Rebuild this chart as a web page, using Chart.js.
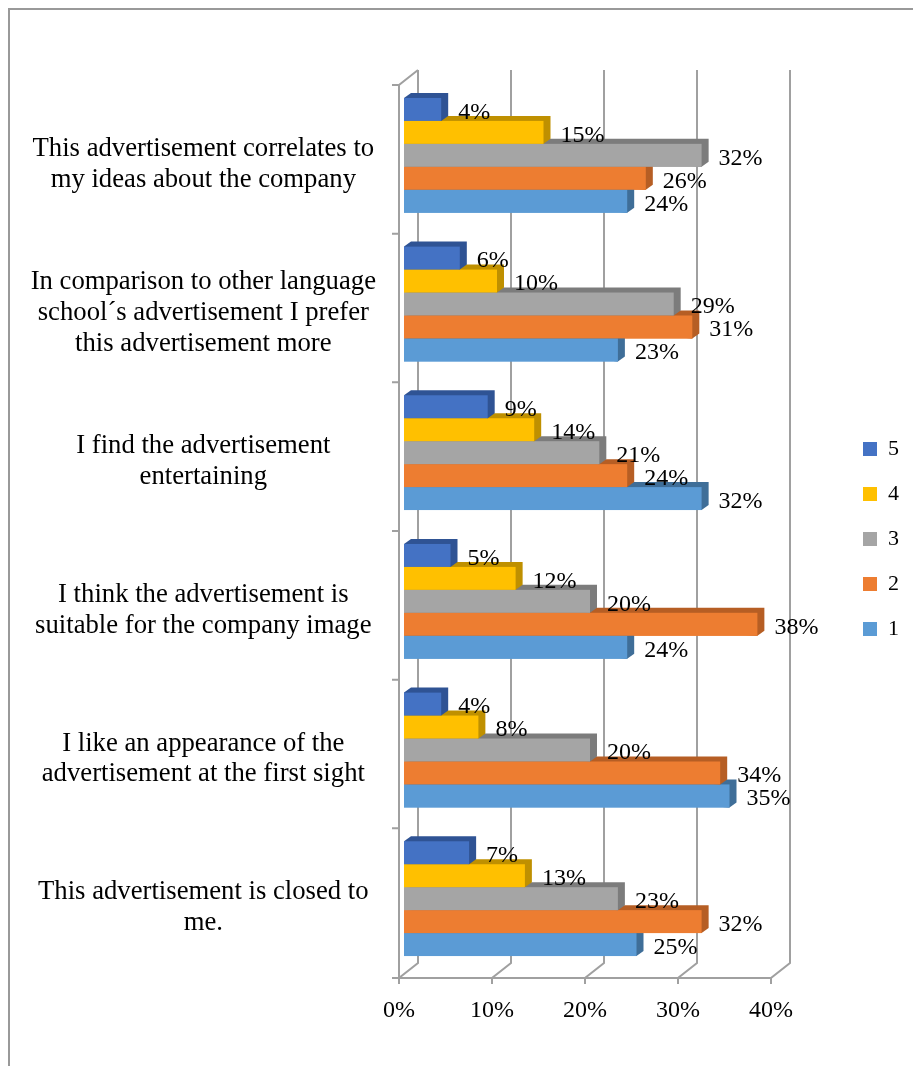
<!DOCTYPE html>
<html>
<head>
<meta charset="utf-8">
<script src="https://cdn.jsdelivr.net/npm/chart.js@4"></script>
<style>
  html, body { margin: 0; padding: 0; background: #fff; overflow: hidden; }
  #frame { position: absolute; left: 8px; top: 8px; width: 1200px; height: 1200px;
           border-left: 2px solid #999; border-top: 2px solid #999; }
  #c { position: absolute; left: 0; top: 0; }
</style>
</head>
<body>
<div id="frame"></div>
<canvas id="c" width="913" height="1066"></canvas>
<script>
// Survey statements (top to bottom)
const categories = [
  ['This advertisement correlates to', 'my ideas about the company'],
  ['In comparison to other language', 'school\u00b4s advertisement I prefer', 'this advertisement more'],
  ['I find the advertisement', 'entertaining'],
  ['I think the advertisement is', 'suitable for the company image'],
  ['I like an appearance of the', 'advertisement at the first sight'],
  ['This advertisement is closed to', 'me.']
];

// Share of answers per rating, in percent
const seriesNames = ['5', '4', '3', '2', '1'];
const rating5 = [4, 6, 9, 5, 4, 7];
const rating4 = [15, 10, 14, 12, 8, 13];
const rating3 = [32, 29, 21, 20, 20, 23];
const rating2 = [26, 31, 24, 38, 34, 32];
const rating1 = [24, 23, 32, 24, 35, 25];

// Value axis ticks
const xTickValues = [0, 10, 20, 30, 40];

const frontColors = ['#4472C4', '#FFC000', '#A5A5A5', '#ED7D31', '#5B9BD5'];
const shadeColors = ['#2F5394', '#BF9000', '#7C7C7C', '#B65E24', '#3F6E98'];
const FONT = '"Liberation Serif", "Times New Roman", serif';
const DX = 7, DY = 5;          // bar depth
const FRONT_X = -5, FRONT_Y = 4; // front plane offset from the bar plane
const BACK_X = 14, BACK_Y = -11; // back wall offset from the bar plane

const seriesData = [rating5, rating4, rating3, rating2, rating1];

// Draws the 3D walls, the bar depth faces and the value labels
const box3d = {
  id: 'box3d',
  beforeDatasetsDraw(chart) {
    const { ctx, chartArea: a, scales: { x, y } } = chart;
    const fx = v => x.getPixelForValue(v) + FRONT_X;
    const bx = v => x.getPixelForValue(v) + BACK_X;
    const fyTop = a.top + FRONT_Y, fyBot = a.bottom + FRONT_Y + 1;
    const byTop = a.top + BACK_Y, byBot = a.bottom + BACK_Y + 1;
    ctx.save();
    ctx.strokeStyle = '#a0a0a0';
    ctx.lineWidth = 2;
    ctx.beginPath();
    xTickValues.forEach(v => {
      ctx.moveTo(bx(v), byTop);
      ctx.lineTo(bx(v), byBot);
      ctx.lineTo(fx(v), fyBot);
      ctx.lineTo(fx(v), fyBot + 6);
    });
    // front edge of the floor
    ctx.moveTo(fx(0) - 7, fyBot);
    ctx.lineTo(fx(xTickValues[xTickValues.length - 1]), fyBot);
    // left wall
    ctx.moveTo(bx(0), byTop);
    ctx.lineTo(fx(0), fyTop);
    ctx.lineTo(fx(0), fyBot);
    // category tick marks
    for (let k = 0; k <= categories.length; k++) {
      const yy = y.getPixelForValue(k - 0.5) + FRONT_Y + (k === categories.length ? 1 : 0);
      ctx.moveTo(fx(0) - 7, yy);
      ctx.lineTo(fx(0), yy);
    }
    ctx.stroke();
    ctx.restore();
  },
  afterDatasetsDraw(chart) {
    const { ctx } = chart;
    const metas = chart.data.datasets.map((d, i) => chart.getDatasetMeta(i));
    ctx.save();
    for (let i = 0; i < categories.length; i++) {
      // lower bars first so the bar above covers their top face
      for (let d = metas.length - 1; d >= 0; d--) {
        const el = metas[d].data[i];
        const { x: x1, y: yc, base: x0, height: h } = el.getProps(['x', 'y', 'base', 'height'], true);
        const t = yc - h / 2, b = yc + h / 2;
        ctx.fillStyle = shadeColors[d];
        ctx.beginPath();
        ctx.moveTo(x0, t);
        ctx.lineTo(x0 + DX, t - DY);
        ctx.lineTo(x1 + DX, t - DY);
        ctx.lineTo(x1 + DX, b - DY);
        ctx.lineTo(x1, b);
        ctx.closePath();
        ctx.fill();
        ctx.fillStyle = frontColors[d];
        ctx.fillRect(x0, t, x1 - x0, h);
      }
    }
    ctx.font = '24px ' + FONT;
    ctx.fillStyle = '#000';
    ctx.textAlign = 'left';
    ctx.textBaseline = 'middle';
    for (let i = 0; i < categories.length; i++) {
      for (let d = 0; d < metas.length; d++) {
        const el = metas[d].data[i];
        const { x: x1, y: yc } = el.getProps(['x', 'y'], true);
        ctx.fillText(chart.data.datasets[d].data[i] + '%', x1 + 17, yc + 3);
      }
    }
    ctx.restore();
  }
};

new Chart(document.getElementById('c'), {
  type: 'bar',
  data: {
    labels: categories,
    datasets: seriesNames.map((name, i) => ({
      label: name,
      data: seriesData[i],
      backgroundColor: frontColors[i],
      borderWidth: 0
    }))
  },
  options: {
    indexAxis: 'y',
    responsive: false,
    animation: false,
    layout: { padding: { top: 81, left: 0, right: 4, bottom: 0 } },
    datasets: { bar: { categoryPercentage: 0.772, barPercentage: 1 } },
    scales: {
      x: {
        min: 0, max: 40,
        ticks: { stepSize: 10, callback: v => v + '%', color: '#000',
                 font: { family: FONT, size: 24 }, padding: 23, labelOffset: -5,
                 maxRotation: 0, autoSkip: false },
        grid: { display: false, drawTicks: false },
        border: { display: false },
        afterFit: s => { s.height = 93; }
      },
      y: {
        ticks: { color: '#000', font: { family: FONT, size: 26.7, lineHeight: 1.16 },
                 crossAlign: 'center', padding: 28, labelOffset: 9, autoSkip: false },
        grid: { display: false, drawTicks: false },
        border: { display: false },
        afterFit: s => { s.width = 404; }
      },
      yGap: {
        type: 'linear', position: 'right', display: true,
        grid: { display: false, drawTicks: false },
        border: { display: false },
        ticks: { display: false },
        afterFit: s => { s.width = 64; }
      }
    },
    plugins: {
      legend: {
        position: 'right', fullSize: false, align: 'center',
        title: { display: true, text: '', font: { size: 12, lineHeight: 1 }, padding: { top: 6, bottom: 6 } },
        labels: { boxWidth: 14, boxHeight: 14, padding: 23, color: '#000',
                  font: { family: FONT, size: 22 } }
      },
      tooltip: { enabled: false }
    }
  },
  plugins: [box3d]
});
</script>
</body>
</html>
